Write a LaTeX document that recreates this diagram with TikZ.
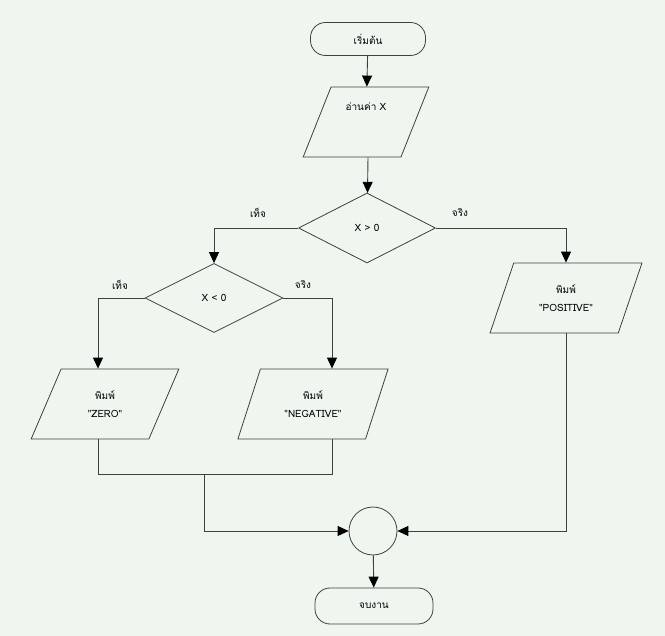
\documentclass[tikz,border=0pt]{standalone}
\usepackage{fontspec}
\newfontfamily\thaifont[Script=Thai]{Loma}
\usetikzlibrary{shapes.geometric,arrows.meta}
\definecolor{bgcol}{RGB}{239,245,239}
\definecolor{linecol}{RGB}{60,66,60}
\tikzset{
  base/.style={draw=linecol, line width=0.8pt, font=\thaifont\fontsize{10}{13}\selectfont, inner sep=2pt},
  terminal/.style={base, rectangle, rounded corners=15pt},
  iobox/.style={base, trapezium, trapezium left angle=67, trapezium right angle=113,
    trapezium stretches=true, minimum height=70pt, align=center},
  decision/.style={base, diamond, inner sep=0pt},
  connector/.style={base, circle, minimum size=48pt},
  flow/.style={draw=linecol, line width=0.9pt, -{Triangle[length=11pt,width=10pt,color=black]}},
  line/.style={draw=linecol, line width=0.9pt},
  lbl/.style={font=\thaifont\fontsize{10}{12}\selectfont}
}
\begin{document}
\begin{tikzpicture}[x=1pt,y=-1pt]
\fill[bgcol] (0,0) rectangle (665,636);
\useasboundingbox (0,0) rectangle (665,636);

\node[terminal, minimum width=115pt, minimum height=33pt] (start) at (368,39) {เริ่มต้น};
\node[iobox, minimum width=126pt, text height=8pt, text depth=30pt] (readx) at (366,122) {อ่านค่า X};
\node[decision, minimum width=137pt, minimum height=70pt] (testpos) at (367,228) {X > 0};
\node[decision, minimum width=138pt, minimum height=69pt] (testneg) at (214,298) {X < 0};
\node[iobox, minimum width=152pt] (outpos) at (566,298) {พิมพ์\\[5pt]"POSITIVE"};
\node[iobox, minimum width=148pt] (outzero) at (105,404) {พิมพ์\\[5pt]"ZERO"};
\node[iobox, minimum width=151pt] (outneg) at (313,404) {พิมพ์\\[5pt]"NEGATIVE"};
\node[connector] (join) at (373,531) {};
\node[terminal, minimum width=118pt, minimum height=36pt] (stop) at (374,606) {จบงาน};

\node[lbl] (f1) at (258,213) {เท็จ};
\node[lbl] (t1) at (460,213) {จริง};
\node[lbl] (f2) at (120,285) {เท็จ};
\node[lbl] (t2) at (303,285) {จริง};

\coordinate (zerox) at (98,0);
\coordinate (negx) at (332,0);
\coordinate (merge) at (204,474);

\draw[flow] (start) -- (readx);
\draw[flow] (readx.south -| start) -- (testpos);
\draw[flow] (testpos.west) -| (testneg.north);
\draw[flow] (testpos.east) -| (outpos.north);
\draw[flow] (testneg.west) -| (outzero.north -| zerox);
\draw[flow] (testneg.east) -| (outneg.north -| negx);
\draw[line] (outzero.south -| zerox) |- (merge -| negx) -- (outneg.south -| negx);
\draw[flow] (merge) |- (join.west);
\draw[flow] (outpos.south) |- (join.east);
\draw[flow] (join) -- (stop);
\end{tikzpicture}
\end{document}
